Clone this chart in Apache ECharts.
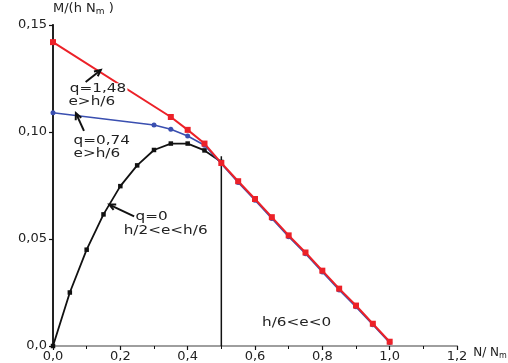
<!DOCTYPE html>
<html><head><meta charset="utf-8">
<script src="https://cdn.jsdelivr.net/npm/echarts@6/dist/echarts.min.js"></script>
<style>html,body{margin:0;padding:0;background:#fff}#c{width:508px;height:363px}</style>
</head><body><div id="c"></div>
<script>
// ---- data ----
var xTickLabels = ['0,0','0,2','0,4','0,6','0,8','1,0','1,2'];
var yTickLabels = ['0,0','0,05','0,10','0,15'];

var redX = [0, 0.35, 0.40, 0.45, 0.50, 0.55, 0.60, 0.65, 0.70, 0.75, 0.80, 0.85, 0.90, 0.95, 1.00];
var redY = [0.142, 0.107, 0.101, 0.0946, 0.0855, 0.0770, 0.0687, 0.0602, 0.0517, 0.0437, 0.0352, 0.0268, 0.0189, 0.0104, 0.0020];

var blueX = [0, 0.30, 0.35, 0.40, 0.45, 0.50, 0.55, 0.60, 0.65, 0.70, 0.75, 0.80, 0.85, 0.90, 0.95, 1.00];
var blueY = [0.109, 0.1033, 0.1013, 0.0981, 0.0938, 0.0852, 0.0764, 0.0681, 0.0596, 0.0511, 0.0431, 0.0346, 0.0262, 0.0183, 0.0099, 0.0016];

var blackX = [0, 0.05, 0.10, 0.15, 0.20, 0.25, 0.30, 0.35, 0.40, 0.45, 0.50];
var blackY = [0, 0.025, 0.045, 0.0615, 0.0747, 0.0844, 0.0916, 0.0946, 0.0946, 0.0914, 0.0860];

var dividerX = [0.5, 0.5];
var dividerY = [0, 0.0887];

// annotations: text lines and arrows (tail -> head) in data units
var annoTexts = [
  {x: 0.046, y: 0.1200, t: 'q=1,48', bg: true},
  {x: 0.046, y: 0.1140, t: 'e>h/6', bg: false},
  {x: 0.061, y: 0.0960, t: 'q=0,74', bg: false},
  {x: 0.061, y: 0.0900, t: 'e>h/6', bg: false},
  {x: 0.245, y: 0.0605, t: 'q=0', bg: false},
  {x: 0.210, y: 0.0539, t: 'h/2<e<h/6', bg: false},
  {x: 0.621, y: 0.0109, t: 'h/6<e<0', bg: false}
];
var annoArrows = [
  {tail: [0.097, 0.1234], head: [0.142, 0.1290]},
  {tail: [0.092, 0.1005], head: [0.068, 0.1088]},
  {tail: [0.241, 0.0606], head: [0.167, 0.0661]}
];

function zip(a, b) { return a.map(function (v, i) { return [v, b[i]]; }); }

var FONT = 'DejaVu Sans';
var chart = echarts.init(document.getElementById('c'), null, {renderer: 'canvas'});

var option = {
  animation: false,
  backgroundColor: '#fff',
  grid: {left: 53, right: 51, top: 25, bottom: 17, containLabel: false, outerBoundsMode: 'none'},
  xAxis: [{
    type: 'value', min: 0, max: 1.2, interval: 0.2,
    axisLine: {show: true, onZero: false, lineStyle: {color: '#111', width: 1.5}},
    axisTick: {show: true, length: 4, lineStyle: {color: '#111', width: 1.2}},
    minorTick: {show: true, splitNumber: 2, length: 3, lineStyle: {color: '#111', width: 1}},
    splitLine: {show: false},
    axisLabel: {margin: 4, color: '#222', fontFamily: FONT, fontSize: 13,
      formatter: function (v) { return xTickLabels[Math.round(v / 0.2)]; }},
    name: '{a|N/ N}{s|m}', nameLocation: 'end', nameGap: 2,
    nameTextStyle: {verticalAlign: 'top', padding: [0, 0, 0, 0],
      rich: {a: {fontFamily: FONT, fontSize: 12, color: '#222'},
             s: {fontFamily: FONT, fontSize: 8, color: '#222', padding: [6, 0, 0, 0]}}}
  }, {
    type: 'value', min: 0, max: 1.2, position: 'top',
    axisLine: {show: true, lineStyle: {color: '#bbb', width: 1.5}},
    axisTick: {show: false}, axisLabel: {show: false}, splitLine: {show: false}
  }],
  yAxis: [{
    type: 'value', min: 0, max: 0.15, interval: 0.05,
    axisLine: {show: true, onZero: false, lineStyle: {color: '#111', width: 1.5}},
    axisTick: {show: true, length: 4, lineStyle: {color: '#111', width: 1.2}},
    splitLine: {show: false},
    axisLabel: {margin: 6, color: '#222', fontFamily: FONT, fontSize: 13,
      formatter: function (v) { return yTickLabels[Math.round(v / 0.05)]; }},
    name: '{a|M/(h N}{s|m}{a| )}', nameLocation: 'end', nameGap: 9,
    nameTextStyle: {align: 'left', padding: [0, 0, 0, 0],
      rich: {a: {fontFamily: FONT, fontSize: 13, color: '#222'},
             s: {fontFamily: FONT, fontSize: 9, color: '#222', padding: [6, 0, 0, 0]}}}
  }, {
    type: 'value', min: 0, max: 0.15, position: 'right',
    axisLine: {show: true, lineStyle: {color: '#222', width: 2}},
    axisTick: {show: false}, axisLabel: {show: false}, splitLine: {show: false}
  }],
  series: [
    {type: 'line', name: 'divider', data: zip(dividerX, dividerY), symbol: 'none',
      lineStyle: {color: '#111', width: 1.5}, z: 2},
    {type: 'line', name: 'q=0', data: zip(blackX, blackY), symbol: 'rect', symbolSize: 4.5,
      itemStyle: {color: '#111'}, lineStyle: {color: '#111', width: 1.8}, z: 3},
    {type: 'line', name: 'q=0,74', data: zip(blueX, blueY), symbol: 'circle', symbolSize: 5,
      itemStyle: {color: '#3a4fb0'}, lineStyle: {color: '#3a4fb0', width: 1.6}, z: 4},
    {type: 'line', name: 'q=1,48', data: zip(redX, redY), symbol: 'rect', symbolSize: 6,
      itemStyle: {color: '#ec2128'}, lineStyle: {color: '#ec2128', width: 2}, z: 5}
  ]
};
chart.setOption(option);

function px(p) { return chart.convertToPixel({xAxisIndex: 0, yAxisIndex: 0}, p); }
var g = [];
annoTexts.forEach(function (a) {
  var p = px([a.x, a.y]);
  g.push({type: 'text', x: p[0], y: p[1], scaleX: 1.27, z: 100,
    style: {text: a.t, fill: '#222', font: '12px "DejaVu Sans"', verticalAlign: 'middle',
      backgroundColor: a.bg ? '#fff' : null, padding: a.bg ? [0, 1, 0, 1] : 0}});
});
annoArrows.forEach(function (a) {
  var t = px(a.tail), h = px(a.head);
  var ang = Math.atan2(h[1] - t[1], h[0] - t[0]);
  var L = 7, w = 0.45;
  var p1 = [h[0] - L * Math.cos(ang - w), h[1] - L * Math.sin(ang - w)];
  var p2 = [h[0] - L * Math.cos(ang + w), h[1] - L * Math.sin(ang + w)];
  g.push({type: 'polyline', z: 101, shape: {points: [t, h]}, style: {stroke: '#111', lineWidth: 2, fill: null}});
  g.push({type: 'polyline', z: 101, shape: {points: [p1, h, p2]}, style: {stroke: '#111', lineWidth: 2, fill: null}});
});
chart.setOption({graphic: g});
</script></body></html>
